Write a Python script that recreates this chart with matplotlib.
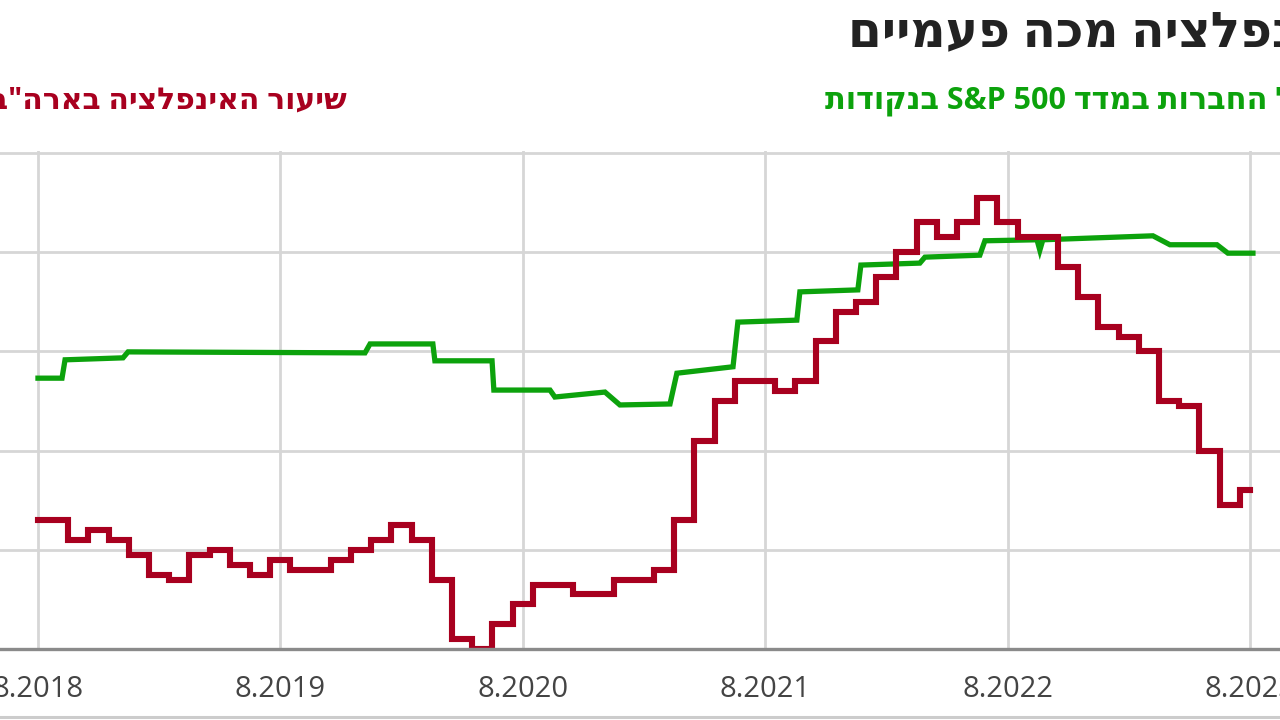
import matplotlib
matplotlib.use("Agg")
import matplotlib.pyplot as plt
from matplotlib.lines import Line2D

# months counted from 8.2018
tick_pos = [0, 12, 24, 36, 48, 60]
tick_labels = ["8.2018", "8.2019", "8.2020", "8.2021", "8.2022", "8.2023"]

# US inflation rate, monthly (%)
inflation = [2.6, 2.6, 2.2, 2.4, 2.2, 1.9, 1.5, 1.4, 1.9, 2.0, 1.7, 1.5,
             1.8, 1.6, 1.6, 1.8, 2.0, 2.2, 2.5, 2.2, 1.4, 0.2, 0.0, 0.5,
             0.9, 1.3, 1.3, 1.1, 1.1, 1.4, 1.4, 1.6, 2.6, 4.2, 5.0, 5.4,
             5.4, 5.2, 5.4, 6.2, 6.8, 7.0, 7.5, 8.0, 8.6, 8.3, 8.6, 9.1,
             8.6, 8.3, 8.3, 7.7, 7.1, 6.5, 6.3, 6.0, 5.0, 4.9, 4.0, 2.9, 3.2]

# S&P 500 companies series (read in the same scale as the chart)
sp_months = [0.0, 1.19, 1.34, 4.21, 4.46, 16.19, 16.44, 19.55, 19.65, 22.48,
             22.57, 25.35, 25.59, 28.07, 28.81, 31.29, 31.63, 34.41, 34.65,
             37.57, 37.72, 40.59, 40.74, 43.66, 43.91, 46.63, 46.88, 49.46,
             49.6, 49.75, 55.2, 56.04, 58.37, 58.91, 60.15]
sp_values = [5.46, 5.46, 5.83, 5.87, 5.99, 5.97, 6.15, 6.15, 5.81, 5.81,
             5.22, 5.22, 5.08, 5.18, 4.92, 4.94, 5.56, 5.69, 6.59,
             6.63, 7.20, 7.24, 7.74, 7.78, 7.90, 7.94, 8.23, 8.25,
             8.04, 8.25, 8.33, 8.15, 8.15, 7.98, 7.98]

title = "האינפלציה מכה פעמיים"
red_label = 'שיעור האינפלציה בארה"ב'
green_label = "הרווח למניה של החברות במדד S&P 500 בנקודות"

RED = "#a8001f"
GREEN = "#0ca20c"
FONTS = ["Open Sans", "DejaVu Sans"]


def visual(s):
    # matplotlib has no bidi support: build the left-to-right glyph order by hand
    groups = []
    for w in s.split(" "):
        ltr = any(c.isascii() and c.isalnum() for c in w)
        if ltr and groups and groups[-1][0]:
            groups[-1][1].append(w)
        else:
            groups.append([ltr, [w]])
    out = []
    for ltr, words in reversed(groups):
        out.append(" ".join(words) if ltr else " ".join(w[::-1] for w in words))
    return " ".join(out)


plt.rcParams["font.family"] = FONTS

fig = plt.figure(figsize=(12.8, 7.2), dpi=100)
ax = fig.add_axes([0, 1 - 649 / 720, 1, 498.5 / 720])

ax.plot(sp_months, sp_values, color=GREEN, lw=3.8, zorder=3,
        solid_joinstyle="miter")
ax.plot(range(len(inflation)), inflation, color=RED, lw=4.4, zorder=4,
        drawstyle="steps-mid", solid_joinstyle="miter")

ax.set_xlim(-1.88, 61.49)
ax.set_ylim(0, 10.05)
ax.set_yticks([0, 2, 4, 6, 8, 10])
ax.set_xticks(tick_pos)
ax.set_xticklabels(tick_labels)
ax.tick_params(axis="x", length=0, pad=19, labelsize=21, labelcolor="#444444")
ax.tick_params(axis="y", length=0, labelleft=False)
ax.grid(True, color="#d6d6d6", lw=2.0, zorder=0)
for side in ["top", "left", "right"]:
    ax.spines[side].set_visible(False)
ax.spines["bottom"].set_color("#8a8a8a")
ax.spines["bottom"].set_linewidth(2.4)
ax.spines["bottom"].set_zorder(5)

fig.text(848 / 1280, 1 - 34 / 720, visual(title), ha="left", va="center",
         fontsize=35, fontweight="bold", color="#222222")
fig.text(347 / 1280, 1 - 101 / 720, visual(red_label), ha="right", va="center",
         fontsize=21.5, fontweight="bold", color=RED)
fig.text(825 / 1280, 1 - 101 / 720, visual(green_label), ha="left", va="center",
         fontsize=22, fontweight="bold", color=GREEN)

fig.add_artist(Line2D([0, 1], [0.004, 0.004], transform=fig.transFigure,
                      color="#cccccc", lw=2.2))

fig.savefig("out.png", dpi=100)
